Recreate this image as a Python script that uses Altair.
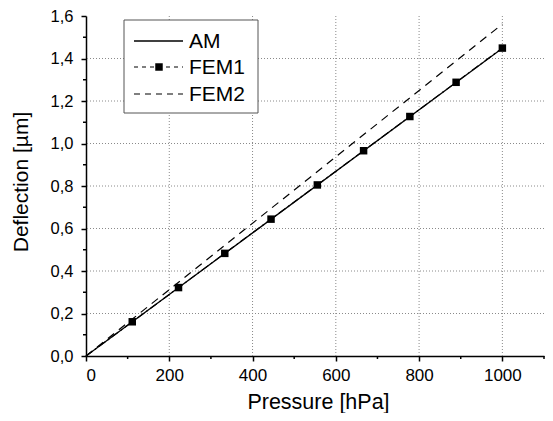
import altair as alt
import pandas as pd

# ---- data ----
pressure_fem1 = [0, 111.1, 222.2, 333.3, 444.4, 555.6, 666.7, 777.8, 888.9, 1000]
deflection_fem1 = [0, 0.161, 0.322, 0.483, 0.644, 0.805, 0.966, 1.127, 1.288, 1.449]
pressure_am = [0, 1000]
deflection_am = [0, 1.448]
pressure_fem2 = [0, 1000]
deflection_fem2 = [0, 1.562]

x_major = [0, 200, 400, 600, 800, 1000]
x_minor = [100, 300, 500, 700, 900, 1100]
x_grid = [200, 400, 600, 800, 1000]
y_major = [0.0, 0.2, 0.4, 0.6, 0.8, 1.0, 1.2, 1.4, 1.6]
y_minor = [0.1, 0.3, 0.5, 0.7, 0.9, 1.1, 1.3, 1.5]
y_grid = [0.2, 0.4, 0.6, 0.8, 1.0, 1.2, 1.4]
legend_labels = ["AM", "FEM1", "FEM2"]

FONT = "Liberation Sans"
W, H = 458, 340

xscale = alt.Scale(domain=[0, 1100], nice=False, zero=False)
yscale = alt.Scale(domain=[0, 1.6], nice=False, zero=False)
xaxis = alt.Axis(values=x_major, title="Pressure [hPa]", grid=False, format="d",
                 labelPadding=6, labelFontSize=17, titleX=232, titleY=52,
                 titleBaseline="alphabetic")
yaxis = alt.Axis(values=y_major, title="Deflection [µm]", grid=False,
                 labelExpr="replace(format(datum.value, '.1f'), '.', ',')",
                 labelPadding=8, titleX=-59, titleY=165.5, titleAngle=270,
                 titleBaseline="alphabetic", titleAlign="center", titleFontSize=21)

X = alt.X("p:Q", scale=xscale, axis=xaxis)
Y = alt.Y("d:Q", scale=yscale, axis=yaxis)

df_fem1 = pd.DataFrame({"p": pressure_fem1, "d": deflection_fem1})
df_fem1_pts = df_fem1[df_fem1["p"] > 0]
df_am = pd.DataFrame({"p": pressure_am, "d": deflection_am})
df_fem2 = pd.DataFrame({"p": pressure_fem2, "d": deflection_fem2})

grid_style = dict(color="#8a8a8a", strokeDash=[1, 2], strokeWidth=1)
vgrid = alt.Chart(pd.DataFrame({"p": x_grid})).mark_rule(**grid_style).encode(x=X)
hgrid = alt.Chart(pd.DataFrame({"d": y_grid})).mark_rule(**grid_style).encode(y=Y)

xminor = alt.Chart(pd.DataFrame({"p": x_minor})).mark_rule(color="black", strokeWidth=1.5).encode(
    x=X, y=alt.value(H), y2=alt.value(H + 3))
yminor = alt.Chart(pd.DataFrame({"d": y_minor})).mark_rule(color="black", strokeWidth=1.5).encode(
    y=Y, x=alt.value(-3), x2=alt.value(0))

fem2 = alt.Chart(df_fem2).mark_line(color="black", strokeWidth=1.2, strokeDash=[8, 6]).encode(x=X, y=Y)
am = alt.Chart(df_am).mark_line(color="black", strokeWidth=1.3).encode(x=X, y=Y)
fem1 = alt.Chart(df_fem1).mark_line(color="black", strokeWidth=1.2, strokeDash=[8, 3, 2, 3]).encode(x=X, y=Y)
fem1_pts = alt.Chart(df_fem1_pts).mark_point(shape="square", filled=True, color="black",
                                             size=56, opacity=1).encode(x=X, y=Y)

# ---- legend box ----
one = pd.DataFrame({"a": [0]})
box = alt.Chart(one).mark_rect(fill="white", stroke="#555555", strokeWidth=1).encode(
    x=alt.value(38), x2=alt.value(172), y=alt.value(4), y2=alt.value(97))
row_y = [25, 51, 78]
legend_layers = [box]
legend_layers.append(alt.Chart(one).mark_rule(color="black", strokeWidth=1.3).encode(
    x=alt.value(48), x2=alt.value(97), y=alt.value(row_y[0])))
legend_layers.append(alt.Chart(one).mark_rule(color="black", strokeWidth=1.2, strokeDash=[4, 4]).encode(
    x=alt.value(48), x2=alt.value(97), y=alt.value(row_y[1])))
legend_layers.append(alt.Chart(one).mark_point(shape="square", filled=True, color="black",
                                               size=56, opacity=1).encode(
    x=alt.value(73), y=alt.value(row_y[1])))
legend_layers.append(alt.Chart(one).mark_rule(color="black", strokeWidth=1.2, strokeDash=[6, 5]).encode(
    x=alt.value(48), x2=alt.value(97), y=alt.value(row_y[2])))
for lab, yy in zip(legend_labels, row_y):
    legend_layers.append(alt.Chart(pd.DataFrame({"t": [lab]})).mark_text(
        align="left", baseline="middle", font=FONT, fontSize=21, color="black").encode(
        x=alt.value(103), y=alt.value(yy + 1), text="t:N"))

chart = alt.layer(vgrid, hgrid, xminor, yminor, fem2, am, fem1, fem1_pts, *legend_layers).properties(
    width=W, height=H,
    autosize=alt.AutoSizeParams(type="none"),
    padding={"left": 78, "top": 8, "right": 1, "bottom": 57},
).configure_view(stroke=None).configure_axis(
    domainColor="black", domainWidth=1.5, tickColor="black", tickWidth=1.5, tickSize=5,
    labelFont=FONT, labelFontSize=16.5, labelColor="black",
    titleFont=FONT, titleFontSize=21.5, titleFontWeight="normal", titleColor="black",
)

chart.save("out.html", embed_options={"renderer": "svg", "actions": False})
